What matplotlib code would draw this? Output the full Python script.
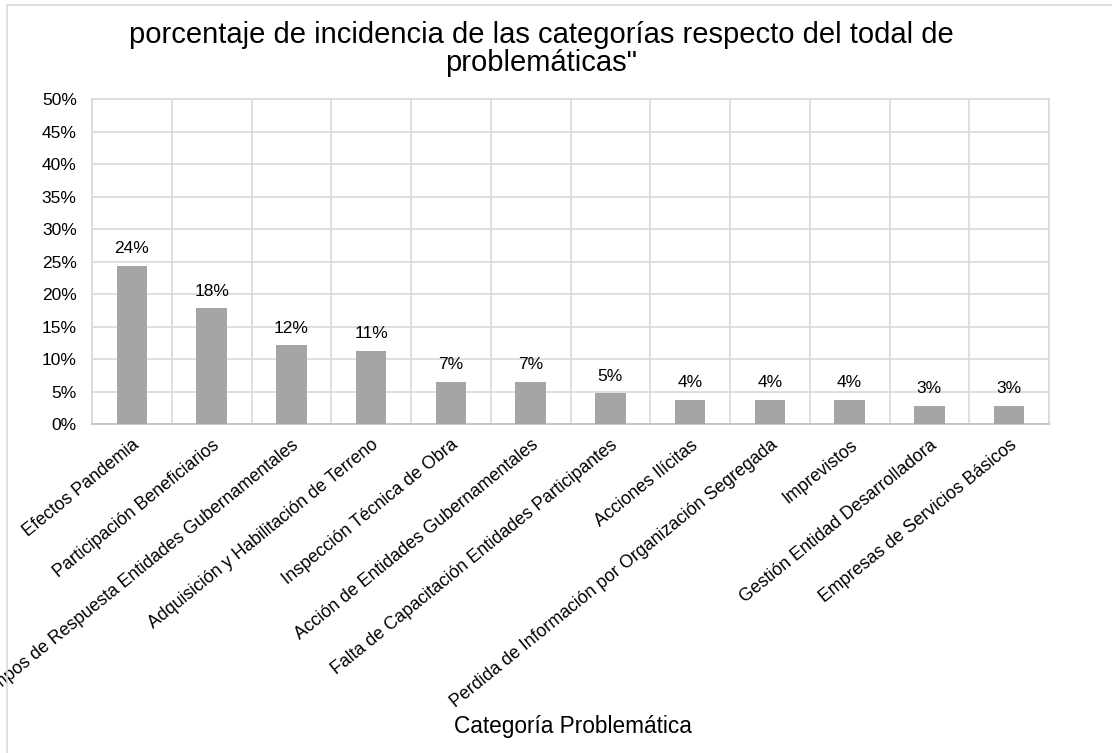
import matplotlib
matplotlib.use("Agg")
import matplotlib.pyplot as plt
from matplotlib.patches import Rectangle
import numpy as np

categories = [
    "Efectos Pandemia",
    "Participación Beneficiarios",
    "Tiempos de Respuesta Entidades Gubernamentales",
    "Adquisición y Habilitación de Terreno",
    "Inspección Técnica de Obra",
    "Acción de Entidades Gubernamentales",
    "Falta de Capacitación Entidades Participantes",
    "Acciones Ilícitas",
    "Perdida de Información por Organización Segregada",
    "Imprevistos",
    "Gestión Entidad Desarrolladora",
    "Empresas de Servicios Básicos",
]
values = [24.3, 17.8, 12.1, 11.2, 6.5, 6.5, 4.7, 3.7, 3.7, 3.7, 2.8, 2.8]
labels = ["24%", "18%", "12%", "11%", "7%", "7%", "5%", "4%", "4%", "4%", "3%", "3%"]
yticks = [0, 5, 10, 15, 20, 25, 30, 35, 40, 45, 50]
title_lines = ["porcentaje de incidencia de las categorías respecto del todal de",
               "problemáticas\""]

plt.rcParams['font.family'] = ['Liberation Sans', 'DejaVu Sans']

W, H = 1112, 753
fig = plt.figure(figsize=(W / 100, H / 100), dpi=100)
fig.patch.set_facecolor("white")

# chart area border
fig.patches.append(Rectangle((7 / W, -0.1), 1.2, 1 - 5 / H + 0.1, transform=fig.transFigure,
                             fill=False, edgecolor="#d9d9d9", linewidth=1.2))

ax = fig.add_axes([92 / W, 1 - 424 / H, (1049 - 92) / W, (424 - 99) / H])
x = np.arange(len(categories))
ax.bar(x, values, width=0.38, color="#a5a5a5", zorder=3)
ax.set_xlim(-0.5, len(categories) - 0.5)
ax.set_ylim(0, 50)
ax.set_yticks(yticks)
ax.set_yticklabels([f"{v}%" for v in yticks], fontsize=12.5)
ax.set_xticks(x)
ax.set_xticklabels(categories, rotation=39, ha="right", va="top",
                   rotation_mode="anchor", fontsize=12.8)
ax.set_xticks(np.arange(len(categories) + 1) - 0.5, minor=True)
ax.tick_params(axis="both", which="both", length=0)
ax.tick_params(axis="y", pad=11)
ax.tick_params(axis="x", pad=9)
ax.grid(axis="y", which="major", color="#d9d9d9", linewidth=1.2, zorder=0)
ax.grid(axis="x", which="minor", color="#d9d9d9", linewidth=1.2, zorder=0)
ax.grid(axis="x", which="major", visible=False)
for s in ["top", "right", "left"]:
    ax.spines[s].set_color("#d9d9d9")
    ax.spines[s].set_linewidth(1.2)
ax.spines["bottom"].set_color("#bfbfbf")
ax.spines["bottom"].set_linewidth(1.2)

for xi, v, lab in zip(x, values, labels):
    ax.annotate(lab, (xi, v), xytext=(0, 7), textcoords="offset points",
                ha="center", va="bottom", fontsize=12.5)

for line, yc in zip(title_lines, [35, 63]):
    fig.text(541 / W, 1 - yc / H, line, ha="center", va="center", fontsize=21)
fig.text(573 / W, 1 - 726 / H, "Categoría Problemática", ha="center", va="center", fontsize=16.3)

fig.savefig("out.png", dpi=100)
